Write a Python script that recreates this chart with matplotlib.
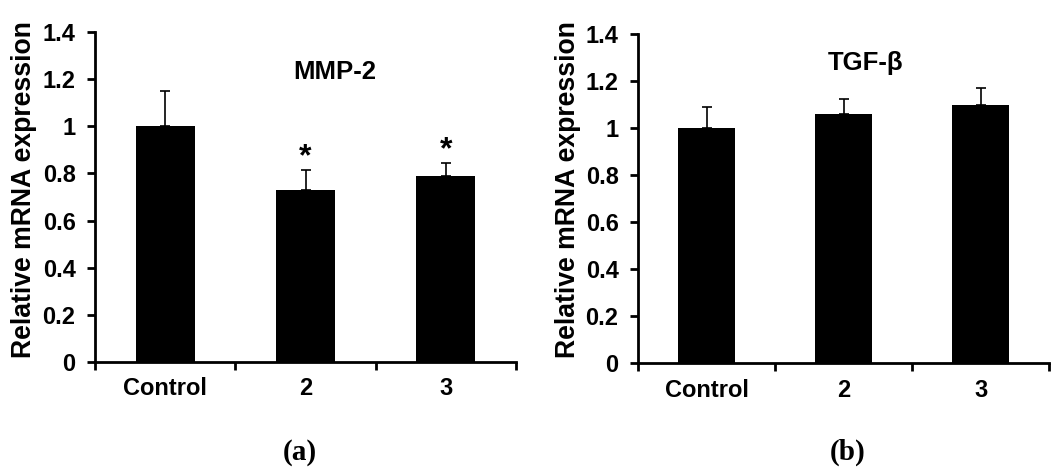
import matplotlib.pyplot as plt
import numpy as np

plt.rcParams['font.family'] = ['Liberation Sans', 'DejaVu Sans']
plt.rcParams['font.weight'] = 'bold'

groups = ['Control', '2', '3']

# MMP-2 relative expression
mmp2_mean = [1.00, 0.73, 0.79]
mmp2_err = [0.15, 0.085, 0.055]
mmp2_sig = ['', '*', '*']

# TGF-beta relative expression
tgfb_mean = [1.00, 1.06, 1.10]
tgfb_err = [0.09, 0.065, 0.07]
tgfb_sig = ['', '', '']

yticks = [0, 0.2, 0.4, 0.6, 0.8, 1, 1.2, 1.4]
ytick_labels = ['0', '0.2', '0.4', '0.6', '0.8', '1', '1.2', '1.4']

fig = plt.figure(figsize=(10.52, 4.74), dpi=100)
ax1 = fig.add_axes([0.0903, 0.2363, 0.4002, 0.6962])
ax2 = fig.add_axes([0.6065, 0.2335, 0.3907, 0.6941])


def draw_panel(ax, means, errs, sig, title, title_xy):
    x = np.arange(len(groups))
    ax.bar(x, means, width=0.42, color='black', zorder=2)
    ax.errorbar(x, means, yerr=[np.zeros(len(errs)), errs], fmt='none',
                ecolor='black', elinewidth=1.2, capsize=3.3, capthick=1.2,
                zorder=1)
    for xi, m, e, s in zip(x, means, errs, sig):
        if s:
            ax.text(xi, m + e - 0.01, s, ha='center', va='bottom',
                    fontsize=23, fontweight='bold')
    ax.text(title_xy[0], title_xy[1], title, ha='center', va='center',
            fontsize=18.5, fontweight='bold')

    ax.set_xlim(-0.5, len(groups) - 0.5)
    ax.set_ylim(0, 1.4)
    ax.set_yticks(yticks)
    ax.set_yticklabels(ytick_labels)
    # group boundaries get the tick marks, group centres get the labels
    ax.set_xticks(np.arange(len(groups) + 1) - 0.5)
    ax.set_xticklabels([])
    ax.set_xticks(x, minor=True)
    ax.set_xticklabels(groups, minor=True)
    ax.tick_params(axis='x', which='major', length=6, width=2, direction='out')
    ax.tick_params(axis='x', which='minor', length=0, pad=11, labelsize=17)
    ax.tick_params(axis='y', length=6, width=2, direction='out', pad=8,
                   labelsize=17)
    for lab in ax.get_xticklabels(minor=True) + ax.get_yticklabels():
        lab.set_fontweight('bold')
    for side in ['top', 'right']:
        ax.spines[side].set_visible(False)
    for side in ['left', 'bottom']:
        ax.spines[side].set_linewidth(2)


draw_panel(ax1, mmp2_mean, mmp2_err, mmp2_sig, 'MMP-2', (1.21, 1.23))
draw_panel(ax2, tgfb_mean, tgfb_err, tgfb_sig, 'TGF-\u03b2', (1.16, 1.28))

fig.text(24 / 1052, 0.601, 'Relative mRNA expression', rotation=90,
         ha='center', va='center', fontsize=19.2, fontweight='bold')
fig.text(568 / 1052, 0.601, 'Relative mRNA expression', rotation=90,
         ha='center', va='center', fontsize=19.2, fontweight='bold')

fig.text(300 / 1052, 0.046, '(a)', ha='center', va='center', fontsize=21,
         fontweight='bold', family=['Liberation Serif', 'DejaVu Serif'])
fig.text(848 / 1052, 0.046, '(b)', ha='center', va='center', fontsize=21,
         fontweight='bold', family=['Liberation Serif', 'DejaVu Serif'])

fig.savefig('out.png', dpi=100)
